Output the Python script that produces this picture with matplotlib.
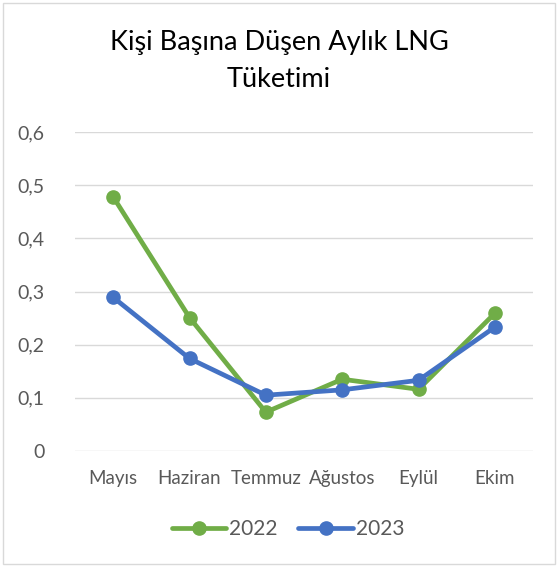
import matplotlib
matplotlib.use("Agg")
import matplotlib.pyplot as plt
from matplotlib.patches import Rectangle
from matplotlib.ticker import FuncFormatter

categories = ["Mayıs", "Haziran", "Temmuz", "Ağustos", "Eylül", "Ekim"]
s2022 = [0.478, 0.251, 0.073, 0.135, 0.116, 0.259]
s2023 = [0.289, 0.174, 0.105, 0.115, 0.133, 0.233]
yticks = [0, 0.1, 0.2, 0.3, 0.4, 0.5, 0.6]

plt.rcParams['font.family'] = ['Lato', 'DejaVu Sans']
txt = '#595959'

fig = plt.figure(figsize=(5.58, 5.66), dpi=100)
ax = fig.add_axes([75/558, 1-451/566, 458/558, (451-132)/566])

x = list(range(len(categories)))
ax.plot(x, s2022, color='#70AD47', lw=3.4, marker='o', ms=9.5, label='2022', solid_capstyle='round')
ax.plot(x, s2023, color='#4472C4', lw=3.4, marker='o', ms=9.5, label='2023', solid_capstyle='round')

ax.set_xlim(-0.5, len(categories) - 0.5)
ax.set_ylim(0, 0.6)
ax.set_yticks(yticks)
ax.yaxis.set_major_formatter(FuncFormatter(lambda v, p: ('%g' % round(v, 1)).replace('.', ',')))
ax.set_xticks(x)
ax.set_xticklabels(categories)
ax.grid(axis='y', color='#D9D9D9', lw=1)
ax.set_axisbelow(True)
for s in ax.spines.values():
    s.set_visible(False)
ax.tick_params(length=0, colors=txt)
ax.tick_params(axis='y', labelsize=14, pad=22)
ax.tick_params(axis='x', labelsize=13.5, pad=14)

fig.text(0.5, 1-61/566, "Kişi Başına Düşen Aylık LNG\nTüketimi", ha='center', va='center',
         fontsize=19.5, color='black', linespacing=1.62)

leg = fig.legend(loc='center', bbox_to_anchor=(288/558, 1-529/566), ncol=2, frameon=False,
                 fontsize=15, labelcolor=txt, handlelength=2.6, columnspacing=1.0, handletextpad=0.15)

fig.patches.append(Rectangle((3/558, 2/566), 1-6/558, 1-5/566, transform=fig.transFigure,
                             fill=False, edgecolor='#D9D9D9', lw=1))

fig.savefig('out.png', dpi=100)
